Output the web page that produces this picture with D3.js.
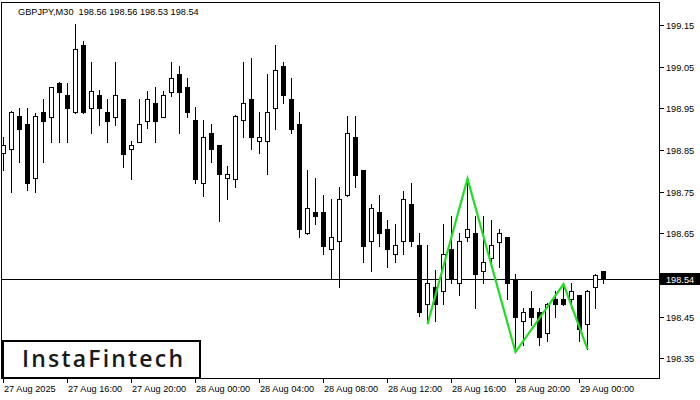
<!DOCTYPE html>
<html><head><meta charset="utf-8">
<script src="https://cdn.jsdelivr.net/npm/d3@7"></script>
<style>body{margin:0;background:#fff}svg{display:block}</style>
</head><body><svg id="c" width="700" height="400"></svg>
<script>
const titleText = "GBPJPY,M30  198.56 198.56 198.53 198.54";
const openP  = [198.843,198.852,198.932,198.912,198.782,198.941,198.930,199.011,198.982,198.940,199.102,198.950,198.982,198.941,198.930,198.972,198.852,198.870,198.920,198.962,198.930,198.990,199.032,199.001,198.922,198.770,198.890,198.861,198.782,198.781,198.922,198.972,198.871,198.871,198.950,199.052,198.972,198.912,198.650,198.700,198.700,198.612,198.631,198.741,198.880,198.801,198.631,198.700,198.660,198.600,198.631,198.720,198.621,198.480,198.520,198.511,198.612,198.530,198.640,198.650,198.560,198.590,198.630,198.640,198.540,198.440,198.471,198.460,198.410,198.492,198.492,198.492,198.501,198.432,198.520,198.560];
const highP  = [198.881,198.944,198.950,198.950,198.938,198.972,199.002,199.013,199.010,199.152,199.112,199.062,198.994,198.972,199.062,198.972,198.871,198.972,198.992,199.000,198.992,199.062,199.052,199.022,198.952,198.922,198.912,198.863,198.812,198.934,199.062,199.071,198.941,199.032,199.102,199.062,199.022,198.941,198.802,198.782,198.742,198.732,198.760,198.932,198.932,198.803,198.720,198.741,198.682,198.672,198.752,198.771,198.650,198.621,198.562,198.672,198.692,198.650,198.781,198.692,198.692,198.682,198.660,198.642,198.552,198.471,198.511,198.471,198.482,198.511,198.528,198.530,198.503,198.513,198.553,198.560];
const lowP   = [198.802,198.750,198.820,198.754,198.750,198.820,198.870,198.870,198.870,198.938,198.938,198.890,198.910,198.870,198.910,198.810,198.781,198.868,198.902,198.870,198.928,198.980,198.890,198.930,198.770,198.740,198.820,198.680,198.732,198.760,198.880,198.852,198.842,198.792,198.901,198.962,198.890,198.640,198.648,198.672,198.600,198.540,198.520,198.739,198.760,198.580,198.560,198.620,198.570,198.580,198.600,198.620,198.452,198.440,198.440,198.480,198.530,198.501,198.632,198.470,198.530,198.570,198.570,198.492,198.365,198.381,198.430,198.381,198.391,198.450,198.478,198.471,198.391,198.372,198.471,198.530];
const closeP = [198.862,198.940,198.901,198.770,198.932,198.920,199.000,198.990,198.950,199.092,198.940,198.992,198.950,198.920,198.981,198.840,198.861,198.912,198.972,198.920,198.981,199.022,198.990,198.940,198.781,198.882,198.852,198.792,198.792,198.932,198.962,198.880,198.880,198.941,199.041,198.981,198.901,198.660,198.710,198.692,198.620,198.640,198.732,198.890,198.791,198.620,198.711,198.650,198.612,198.621,198.732,198.631,198.461,198.531,198.480,198.600,198.541,198.631,198.660,198.552,198.580,198.621,198.650,198.530,198.450,198.460,198.450,198.400,198.480,198.480,198.480,198.511,198.420,198.511,198.551,198.540];
const xTickIdx = [0,8,16,24,32,40,48,56,64,72];
const xTickLabels = ["27 Aug 2025","27 Aug 16:00","27 Aug 20:00","28 Aug 00:00","28 Aug 04:00","28 Aug 08:00","28 Aug 12:00","28 Aug 16:00","28 Aug 20:00","29 Aug 00:00"];
const yTicks = [198.35,198.45,198.55,198.65,198.75,198.85,198.95,199.05,199.15];
const patternIdx = [53,58,64,70,73];
const patternPrice = [198.432,198.781,198.365,198.528,198.372];
const lastPrice = 198.54;
const logoText = "InstaFintech";

const svg = d3.select("#c");
const FONT = "'Liberation Sans', Arial, sans-serif";
const x = d3.scaleLinear().domain([0, 75]).range([3.5, 603.5]);
const y = d3.scaleLinear().domain([198.35, 199.15]).range([358.33, 25]);
const R = v => Math.round(y(v));

svg.append("rect").attr("width",700).attr("height",400).attr("fill","#fff");

// price line
svg.append("line").attr("x1",2).attr("x2",659).attr("y1",R(lastPrice)+0.5).attr("y2",R(lastPrice)+0.5)
  .attr("stroke","#000").attr("stroke-width",1);

// candles
const idx = d3.range(openP.length);
const g = svg.append("g");
idx.forEach(i => {
  const cx = x(i);
  const yh = R(highP[i]), yl = R(lowP[i]);
  g.append("rect").attr("x",cx-0.5).attr("y",yh).attr("width",1).attr("height",Math.max(1,yl-yh+1)).attr("fill","#000");
  const o = R(openP[i]), c = R(closeP[i]);
  const top = Math.min(o,c), bot = Math.max(o,c);
  const h = bot - top + 1;
  if (closeP[i] > openP[i] && h >= 3) {
    g.append("rect").attr("x",cx-2).attr("y",top+0.5).attr("width",4).attr("height",h-1)
      .attr("fill","#fff").attr("stroke","#000").attr("stroke-width",1);
  } else {
    g.append("rect").attr("x",cx-2.5).attr("y",top).attr("width",5).attr("height",Math.max(1,h)).attr("fill","#000");
  }
});

// pattern
svg.append("path")
  .datum(patternIdx.map((d,k)=>[x(d), y(patternPrice[k])]))
  .attr("d", d3.line())
  .attr("fill","none").attr("stroke","#1ee01e").attr("stroke-width",2.2);

// frame
svg.append("rect").attr("x",1.5).attr("y",2.5).attr("width",658).attr("height",376)
  .attr("fill","none").attr("stroke","#000").attr("stroke-width",1);

// y axis
const lastY = R(lastPrice);
svg.append("clipPath").attr("id","aboveBox").append("rect").attr("x",660).attr("y",0).attr("width",40).attr("height",lastY-6);
yTicks.forEach(v => {
  const yy = R(v)+0.5;
  svg.append("line").attr("x1",660).attr("x2",664).attr("y1",yy).attr("y2",yy).attr("stroke","#000");
  const t = svg.append("text").attr("x",666).attr("y",yy+3.5).attr("font-family",FONT).attr("font-size",9.2)
    .attr("fill","#000").text(v.toFixed(2));
  if (Math.abs(yy - lastY) < 12) t.attr("clip-path","url(#aboveBox)");
});
// current price box
svg.append("rect").attr("x",660).attr("y",lastY-6).attr("width",40).attr("height",12).attr("fill","#000");
svg.append("text").attr("x",666).attr("y",lastY+4).attr("font-family",FONT).attr("font-size",9.2)
  .attr("fill","#fff").text(lastPrice.toFixed(2));

// x axis
xTickIdx.forEach((d,k) => {
  const xx = Math.floor(x(d))+0.5;
  svg.append("line").attr("x1",xx).attr("x2",xx).attr("y1",379).attr("y2",383).attr("stroke","#000");
  svg.append("text").attr("x",xx+0.5).attr("y",392).attr("font-family",FONT).attr("font-size",9.2)
    .attr("fill","#000").text(xTickLabels[k]);
});

// title
svg.append("text").attr("x",18).attr("y",15).attr("font-family",FONT).attr("font-size",9.2)
  .attr("fill","#000").attr("xml:space","preserve").style("white-space","pre").text(titleText);

// logo
svg.append("rect").attr("x",3).attr("y",341).attr("width",197).attr("height",37)
  .attr("fill","#fff").attr("stroke","#000").attr("stroke-width",2);
svg.append("text").attr("x",22).attr("y",367).attr("font-family","'Open Sans', sans-serif").attr("font-weight",600).attr("font-size",23)
  .attr("textLength",161).attr("lengthAdjust","spacing").attr("fill","#1a1a1a").text(logoText);
</script></body></html>
